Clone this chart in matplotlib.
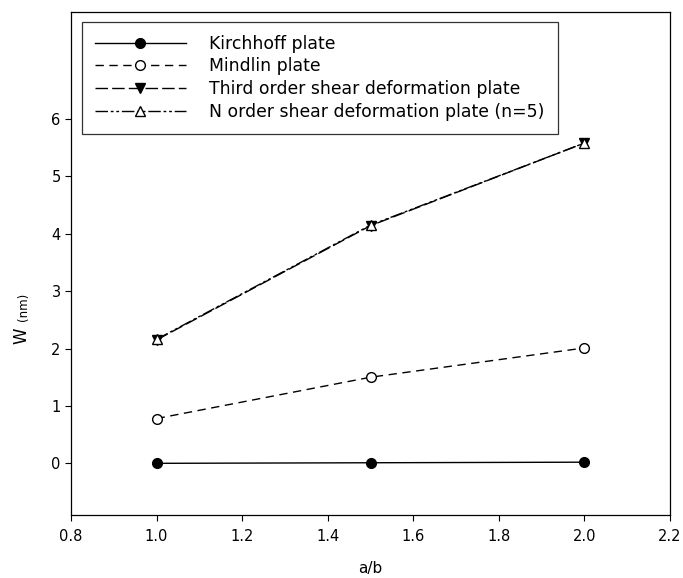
import matplotlib
matplotlib.use("Agg")
import matplotlib.pyplot as plt

plt.rcParams['font.family'] = ['DejaVu Sans']

ratio = [1.0, 1.5, 2.0]
w_kirchhoff = [0.00, 0.01, 0.02]
w_mindlin = [0.78, 1.50, 2.01]
w_third = [2.15, 4.14, 5.58]
w_norder = [2.16, 4.15, 5.58]

fig = plt.figure(figsize=(6.83, 5.78), dpi=100)
ax = fig.add_axes([0.104, 0.109, 0.877, 0.871])

ax.plot(ratio, w_kirchhoff, '-', color='black', lw=1, marker='o', ms=7,
        mfc='black', mec='black', label='Kirchhoff plate')
ax.plot(ratio, w_mindlin, color='black', lw=1, dashes=(6, 4), marker='o', ms=7,
        mfc='white', mec='black', label='Mindlin plate')
ax.plot(ratio, w_third, color='black', lw=1, dashes=(9, 3), marker='v', ms=7,
        mfc='black', mec='black', label='Third order shear deformation plate')
ax.plot(ratio, w_norder, color='black', lw=1, dashes=(9, 2, 2, 2, 2, 2), marker='^', ms=7,
        mfc='white', mec='black', label='N order shear deformation plate (n=5)')

ax.set_xlim(0.8, 2.2)
ax.set_ylim(-0.9, 7.87)
ax.set_xticks([0.8, 1.0, 1.2, 1.4, 1.6, 1.8, 2.0, 2.2])
ax.set_xticklabels(['0.8', '1.0', '1.2', '1.4', '1.6', '1.8', '2.0', '2.2'])
ax.set_yticks([0, 1, 2, 3, 4, 5, 6])
ax.tick_params(direction='out', length=4, width=0.8, labelsize=10.5, colors='black')
ax.tick_params(axis='x', pad=6)

for s in ax.spines.values():
    s.set_linewidth(0.9)

ax.set_xlabel('a/b', fontsize=11, labelpad=12)
fig.text(0.032, 0.405, 'W', rotation=90, fontsize=12, ha='center', va='bottom')
fig.text(0.034, 0.445, '(nm)', rotation=90, fontsize=8.5, ha='center', va='bottom')

leg = ax.legend(loc='upper left', bbox_to_anchor=(0.018, 0.98), borderaxespad=0,
                fontsize=12.4, handlelength=5.3, handletextpad=1.35, labelspacing=0.28,
                frameon=True, fancybox=False, edgecolor='black', borderpad=0.75)
leg.get_frame().set_linewidth(0.9)

fig.savefig('out.png', dpi=100)
